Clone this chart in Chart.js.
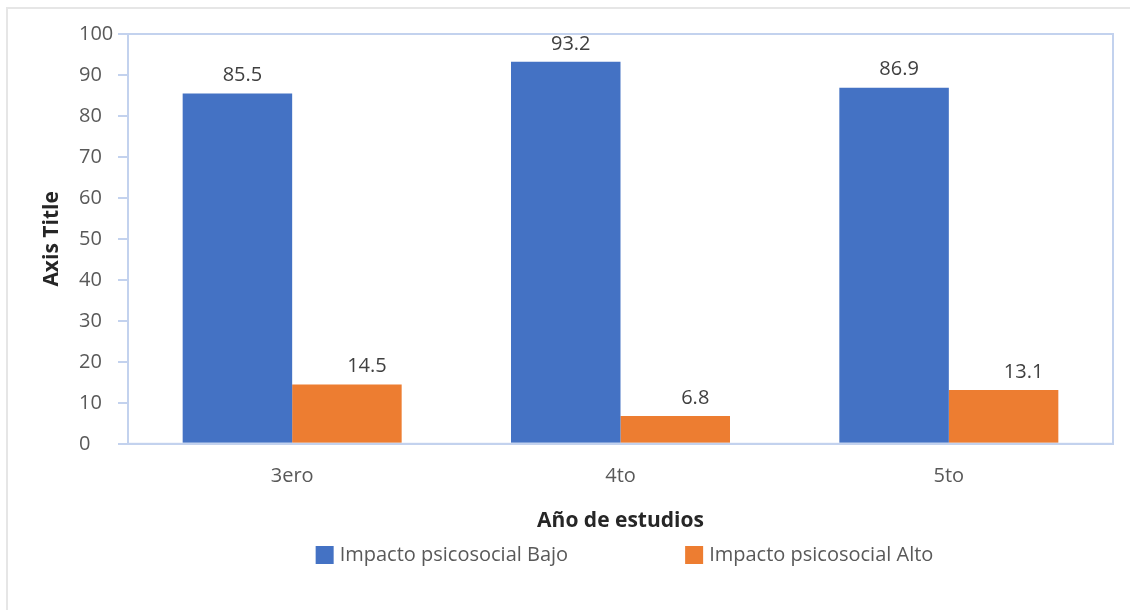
<!DOCTYPE html>
<html>
<head>
<meta charset="utf-8">
<script src="https://cdn.jsdelivr.net/npm/chart.js@4.4.0/dist/chart.umd.min.js"></script>
<style>
  html, body { margin: 0; padding: 0; background: #fff; }
  #wrap { width: 1130px; height: 610px; }
</style>
</head>
<body>
<div id="wrap"><canvas id="chart" width="1130" height="610"></canvas></div>
<script>
const categories = ["3ero", "4to", "5to"];
const seriesNames = ["Impacto psicosocial Bajo", "Impacto psicosocial Alto"];
const bajoValues = [85.5, 93.2, 86.9];
const altoValues = [14.5, 6.8, 13.1];
const yMin = 0;
const yMax = 100;
const yStep = 10;

const FONT = "'Open Sans', sans-serif";
const axisBlue = "#C3D2EE";

// frame around plot area + faint outer border
const framePlugin = {
  id: "frame",
  beforeDraw(chart) {
    const ctx = chart.ctx;
    ctx.save();
    ctx.strokeStyle = "#E6E6E6";
    ctx.lineWidth = 2;
    ctx.beginPath();
    ctx.moveTo(7, chart.height);
    ctx.lineTo(7, 8);
    ctx.lineTo(chart.width, 8);
    ctx.stroke();
    ctx.restore();
  },
  afterDatasetsDraw(chart) {
    const a = chart.chartArea;
    const ctx = chart.ctx;
    ctx.save();
    ctx.strokeStyle = axisBlue;
    ctx.lineWidth = 2;
    ctx.strokeRect(a.left, a.top, a.right - a.left, a.bottom - a.top);
    ctx.restore();
  }
};

// value labels above bars
const valueLabels = {
  id: "valueLabels",
  afterDatasetsDraw(chart, args, opts) {
    const ctx = chart.ctx;
    ctx.save();
    ctx.font = "20px " + FONT;
    ctx.fillStyle = "#404040";
    ctx.textAlign = "center";
    ctx.textBaseline = "middle";
    chart.data.datasets.forEach((ds, i) => {
      const meta = chart.getDatasetMeta(i);
      const dx = opts.offsets[i] || 0;
      meta.data.forEach((bar, j) => {
        ctx.fillText(ds.data[j].toFixed(1), bar.x + dx, bar.y - 18);
      });
    });
    ctx.restore();
  }
};

// y title and legend drawn by hand
const extras = {
  id: "extras",
  afterDraw(chart) {
    const ctx = chart.ctx;
    const a = chart.chartArea;
    ctx.save();
    ctx.font = "bold 21px " + FONT;
    ctx.fillStyle = "#262626";
    ctx.textAlign = "center";
    ctx.textBaseline = "middle";
    ctx.translate(52, (a.top + a.bottom) / 2);
    ctx.rotate(-Math.PI / 2);
    ctx.fillText("Axis Title", 0, 0);
    ctx.restore();

    ctx.save();
    ctx.font = "20px " + FONT;
    ctx.textBaseline = "middle";
    ctx.textAlign = "left";
    const box = 18, gap = 6, spacing = 117;
    const items = chart.data.datasets.map(ds => ({
      label: ds.label, color: ds.backgroundColor, w: ctx.measureText(ds.label).width
    }));
    let total = 0;
    items.forEach((it, i) => { total += box + gap + it.w + (i ? spacing : 0); });
    let x = (a.left + a.right) / 2 + 4 - total / 2;
    const y = 555;
    items.forEach(it => {
      ctx.fillStyle = it.color;
      ctx.fillRect(x, y - box / 2, box, box);
      ctx.fillStyle = "#595959";
      ctx.fillText(it.label, x + box + gap, y);
      x += box + gap + it.w + spacing;
    });
    ctx.restore();
  }
};

new Chart(document.getElementById("chart"), {
  type: "bar",
  data: {
    labels: categories,
    datasets: [
      { label: seriesNames[0], data: bajoValues, backgroundColor: "#4472C4" },
      { label: seriesNames[1], data: altoValues, backgroundColor: "#ED7D31" }
    ]
  },
  options: {
    responsive: false,
    animation: false,
    devicePixelRatio: 1,
    categoryPercentage: 0.667,
    barPercentage: 1,
    layout: { padding: { left: 79, right: 17, top: 34, bottom: 76 } },
    plugins: {
      legend: { display: false },
      tooltip: { enabled: false },
      valueLabels: { offsets: [5, 20] }
    },
    scales: {
      x: {
        grid: { display: false, drawTicks: false },
        border: { display: true, color: axisBlue, width: 2 },
        ticks: { color: "#595959", font: { family: FONT, size: 20 }, padding: 20 },
        title: {
          display: true,
          text: "Año de estudios",
          color: "#262626",
          font: { family: FONT, size: 21, weight: "bold" },
          padding: { top: 1, bottom: 0 }
        }
      },
      y: {
        min: yMin,
        max: yMax,
        grid: { drawOnChartArea: false, drawTicks: true, tickLength: 10, color: axisBlue, lineWidth: 2 },
        border: { display: true, color: axisBlue, width: 2 },
        ticks: {
          stepSize: yStep,
          color: "#595959",
          font: { family: FONT, size: 20 },
          crossAlign: "far"
        },
        afterFit(scale) { scale.width = 49; }
      }
    }
  },
  plugins: [framePlugin, valueLabels, extras]
});
</script>
</body>
</html>
